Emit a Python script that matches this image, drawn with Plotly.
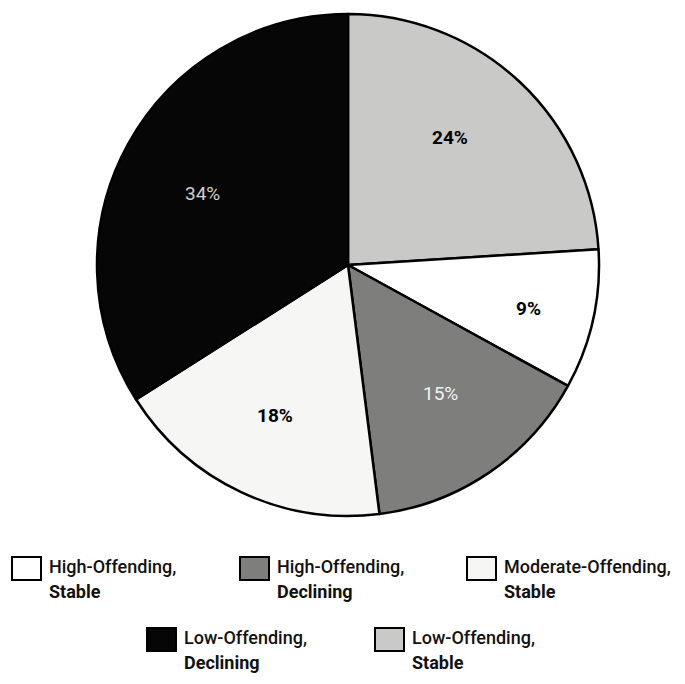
import plotly.graph_objects as go

W, H = 685, 684
OFF = 8  # page body margin offset

# Slices in clockwise order starting at 12 o'clock
categories = ["Low-Offending, Stable", "High-Offending, Stable", "High-Offending, Declining",
              "Moderate-Offending, Stable", "Low-Offending, Declining"]
values = [24, 9, 15, 18, 34]
colors = ["#c9c9c7", "#ffffff", "#7e7e7c", "#f6f6f4", "#060606"]
label_colors = ["#000000", "#000000", "#f2f2f2", "#000000", "#d0d0d0"]
label_bold = [True, True, False, True, False]
# Label anchor positions in page pixels (layout only)
label_px = [(450, 138), (528, 308), (440, 393), (275, 415), (202, 194)]

# Legend layout (order as printed under the pie)
legend_rows = [
    ["High-Offending, Stable", "High-Offending, Declining", "Moderate-Offending, Stable"],
    ["Low-Offending, Declining", "Low-Offending, Stable"],
]

FONT = "Roboto, Liberation Sans, sans-serif"


def px(x):
    return (x - OFF) / W


def py(y):
    return 1 - (y - OFF) / H


fig = go.Figure()
fig.add_trace(go.Pie(
    labels=categories,
    values=values,
    textinfo="none",
    sort=False,
    direction="clockwise",
    rotation=0,
    marker=dict(colors=colors, line=dict(color="#000000", width=2.5)),
    domain=dict(x=[px(348 - 251), px(348 + 251)], y=[py(516), py(14)]),
    showlegend=False,
    hoverinfo="label+percent",
))

annotations = []
for v, b, col, (lx, ly) in zip(values, label_bold, label_colors, label_px):
    t = f"{v}%"
    annotations.append(dict(x=px(lx), y=py(ly), xref="paper", yref="paper",
                            text=f"<b>{t}</b>" if b else t, showarrow=False,
                            xanchor="center", yanchor="middle",
                            font=dict(family=FONT, size=19, color=col)))

color_of = dict(zip(categories, colors))
row_pos = [
    [(12, 557), (240, 557), (467, 557)],
    [(147, 628), (375, 628)],
]
shapes = []
for r, row in enumerate(legend_rows):
    for c, name in enumerate(row):
        x0, y0 = row_pos[r][c]
        shapes.append(dict(type="rect", xref="paper", yref="paper",
                           x0=px(x0), x1=px(x0 + 29), y0=py(y0 + 23), y1=py(y0),
                           fillcolor=color_of[name], line=dict(color="#000000", width=2)))
        first, second = name.split(", ")
        annotations.append(dict(x=px(x0 + 35), y=py(y0 + 9), xref="paper", yref="paper",
                                text=first + ",", showarrow=False, xanchor="left", yanchor="middle",
                                font=dict(family=FONT, size=18, color="#111111", weight=500)))
        annotations.append(dict(x=px(x0 + 35), y=py(y0 + 34), xref="paper", yref="paper",
                                text="<b>" + second + "</b>", showarrow=False, xanchor="left",
                                yanchor="middle",
                                font=dict(family=FONT, size=18, color="#111111")))

fig.update_layout(
    width=W, height=H,
    margin=dict(l=0, r=0, t=0, b=0),
    paper_bgcolor="#ffffff",
    plot_bgcolor="#ffffff",
    shapes=shapes,
    annotations=annotations,
)

fig.write_html("out.html")
